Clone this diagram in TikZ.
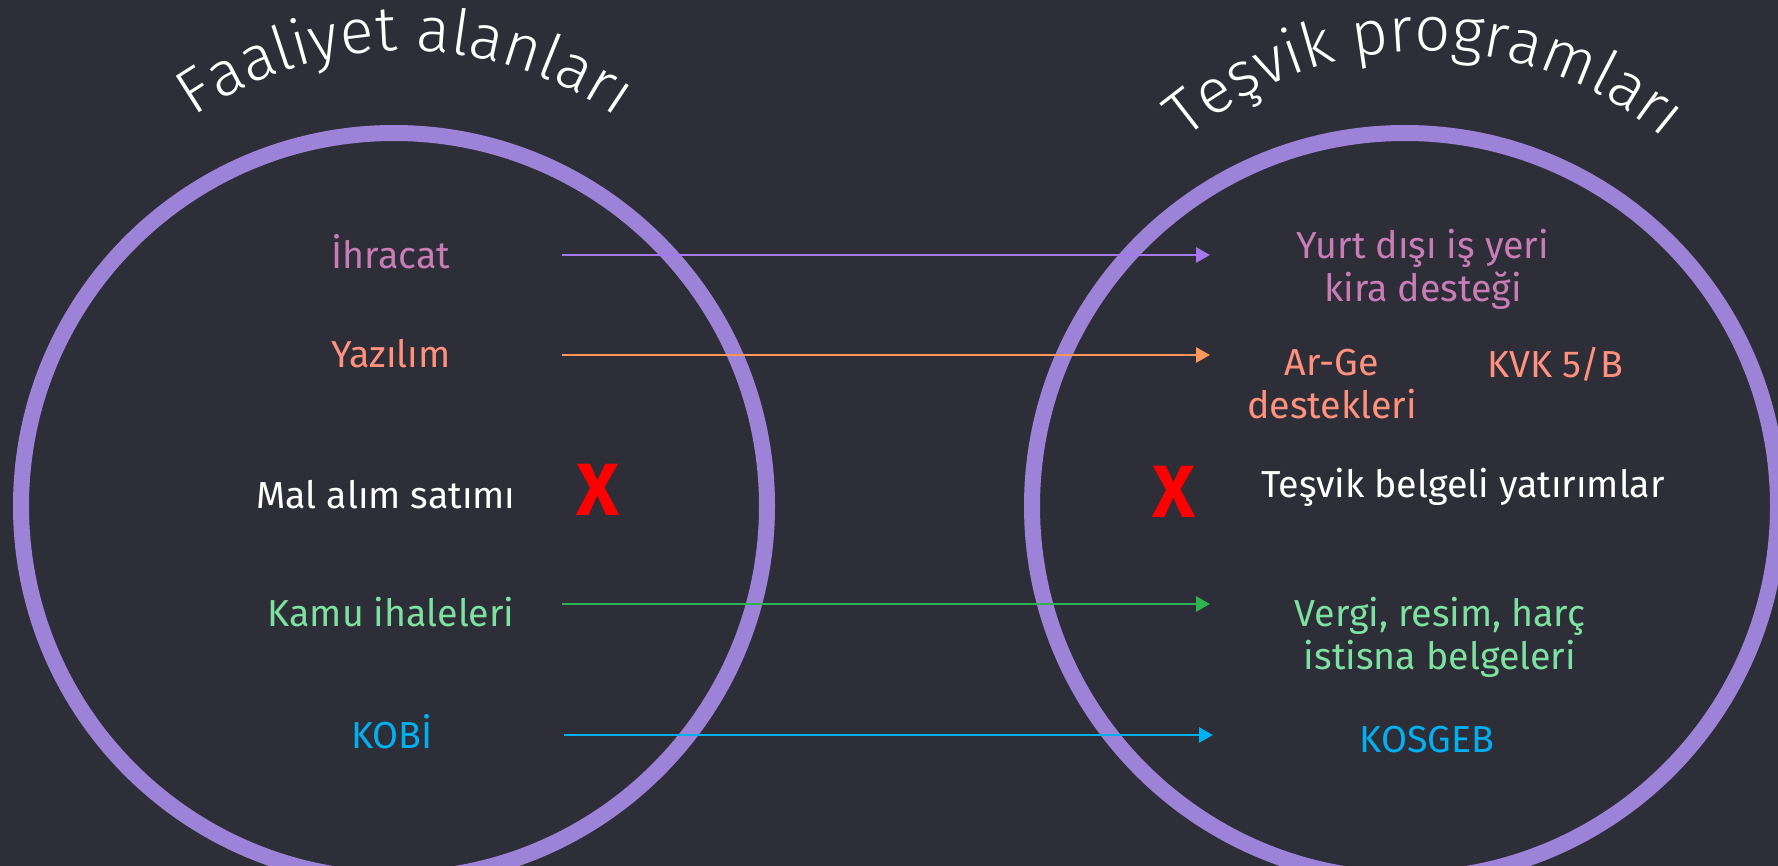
\documentclass[tikz,border=0pt]{standalone}
\usepackage{fontspec}
\setmainfont{Fira Sans}
\IfFontExistsTF{Fira Sans Light}{\newfontfamily\titlefont{Fira Sans Light}}{\newfontfamily\titlefont{Fira Sans}}
\usetikzlibrary{arrows.meta,decorations.text}
\definecolor{bgc}{HTML}{2E2E38}
\definecolor{ringc}{HTML}{9D83D7}
\definecolor{pinkc}{HTML}{C87DB6}
\definecolor{salmc}{HTML}{FF917D}
\definecolor{mintc}{HTML}{7DE1A0}
\definecolor{cyanc}{HTML}{00B0F0}
\definecolor{arrP}{HTML}{A578F0}
\definecolor{arrO}{HTML}{FF965A}
\definecolor{arrG}{HTML}{2DB450}
\definecolor{arrC}{HTML}{00B0F0}
\definecolor{xred}{HTML}{FF0000}
\tikzset{
  ring/.style={draw=ringc, line width=8pt},
  conn/.style={line width=1.4pt, -{Triangle[length=7pt,width=7.5pt]}},
  lbl/.style={font=\fontsize{18.8}{21.5}\selectfont, align=center, inner sep=0pt},
  crossmark/.style={font=\fontsize{37}{40}\selectfont\bfseries, text=xred, inner sep=0pt},
}
\begin{document}
\begin{tikzpicture}[x=0.5pt,y=-0.5pt]
\fill[bgc] (0,0) rectangle (1778,866);
\useasboundingbox (0,0) rectangle (1778,866);
\begin{scope}
\clip (0,0) rectangle (1778,866);
\draw[ring] (394,506) circle [radius=373];
\draw[ring] (1405,506) circle [radius=373];
\end{scope}

% titles
\path[decorate, decoration={text along path, text align=center, text color=white,
  text={|\titlefont\fontsize{31.5}{36}\selectfont|Faaliyet alanları}}]
  (405,421) ++(-160:370) arc[start angle=-160, end angle=-20, radius=370];
\path[decorate, decoration={text along path, text align=center, text color=white,
  text={|\titlefont\fontsize{31.5}{36}\selectfont|Teşvik programları}}]
  (1425,421) ++(-160:370) arc[start angle=-160, end angle=-20, radius=370];

% left labels
\node[lbl, text=pinkc] (ihr) at (391,252) {İhracat};
\node[lbl, text=salmc] (yaz) at (391,354) {Yazılım};
\node[lbl, text=white] (mal) at (386,495) {Mal alım satımı};
\node[lbl, text=mintc] (kamu) at (391,612) {Kamu ihaleleri};
\node[lbl, text=cyanc] (kobi) at (392,732) {KOBİ};
\node[crossmark] (xl) at (598,490) {X};

% right labels
\node[lbl, text=pinkc] (yurt) at (1423,269) {Yurt dışı iş yeri\\kira desteği};
\node[lbl, text=salmc] (arge) at (1332,384) {Ar-Ge\\destekleri};
\node[lbl, text=salmc] (kvk) at (1555,364) {KVK 5/B};
\node[crossmark] (xr) at (1174,492) {X};
\node[lbl, text=white] (tes) at (1463,487) {Teşvik belgeli yatırımlar};
\node[lbl, text=mintc] (verg) at (1440,637) {Vergi, resim, harç\\istisna belgeleri};
\node[lbl, text=cyanc] (kos) at (1427,740) {KOSGEB};

% connectors
\coordinate (s1) at (562,255); \coordinate (e1) at (1210,255);
\coordinate (s2) at (562,355); \coordinate (e2) at (1210,355);
\coordinate (s3) at (562,604); \coordinate (e3) at (1210,604);
\coordinate (s4) at (564,735); \coordinate (e4) at (1213,735);
\draw[conn, arrP] (s1) -- (e1);
\draw[conn, arrO] (s2) -- (e2);
\draw[conn, arrG] (s3) -- (e3);
\draw[conn, arrC] (s4) -- (e4);
\end{tikzpicture}
\end{document}
